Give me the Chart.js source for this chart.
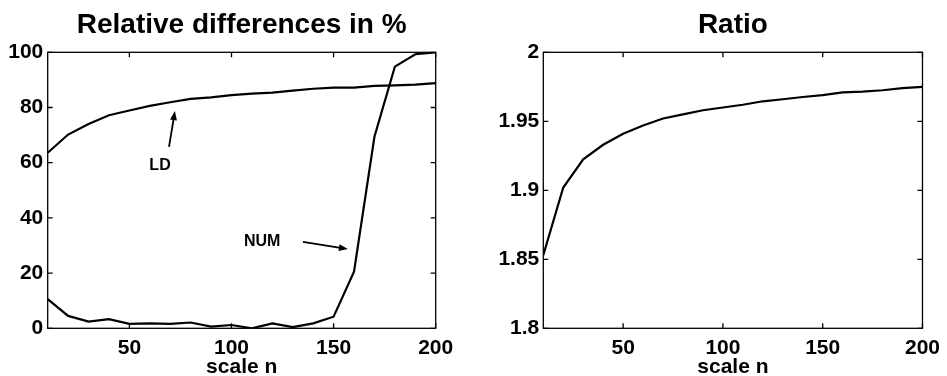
<!DOCTYPE html>
<html lang="en">
<head>
<meta charset="UTF-8">
<title>Relative differences and ratio</title>
<script src="https://cdn.jsdelivr.net/npm/chart.js"></script>
<style>
  body { margin: 0; background: #fff; }
  .panel { position: absolute; top: 0; height: 376px; }
</style>
</head>
<body>
<div class="panel" style="left:0;width:470px"><canvas id="diffChart" width="470" height="376"></canvas></div>
<div class="panel" style="left:470px;width:477px"><canvas id="ratioChart" width="477" height="376"></canvas></div>
<script>
// data
const scaleN = [10, 20, 30, 40, 50, 60, 70, 80, 90, 100, 110, 120, 130, 140, 150, 160, 170, 180, 190, 200];
const ldDiff = [63.6, 70.2, 74.0, 77.2, 78.9, 80.6, 81.9, 83.1, 83.7, 84.5, 85.0, 85.4, 86.1, 86.8, 87.2, 87.2, 87.8, 88.0, 88.3, 88.8];
const numDiff = [10.6, 4.5, 2.4, 3.3, 1.6, 1.8, 1.6, 2.1, 0.6, 1.2, 0.0, 1.8, 0.4, 1.8, 4.2, 20.5, 69.4, 94.8, 99.3, 100];
const ratio = [1.853, 1.902, 1.9225, 1.933, 1.941, 1.947, 1.952, 1.955, 1.958, 1.960, 1.962, 1.9645, 1.966, 1.9676, 1.969, 1.971, 1.9715, 1.9725, 1.974, 1.975];
const xTicks = [50, 100, 150, 200];
const diffTicks = [0, 20, 40, 60, 80, 100];
const ratioTicks = [1.8, 1.85, 1.9, 1.95, 2];

// text labels with arrows (data coordinates of left plot)
const notes = [
    { text: 'LD', at: [65, 58.8], from: [69.4, 65.7], to: [72.3, 78.7] },
    { text: 'NUM', at: [115, 31.3], from: [135, 31.3], to: [157, 28.7] }
];

Chart.defaults.font.family = '"Liberation Sans", Arial, Helvetica, sans-serif';
Chart.defaults.font.weight = 'bold';
Chart.defaults.color = '#000';

const toPoints = ys => scaleN.map((n, i) => ({ x: n, y: ys[i] }));

// box around the plot with inward tick marks
const framePlugin = {
    id: 'frame',
    afterDatasetsDraw(chart) {
        const { ctx, chartArea: a, scales: { x, y } } = chart;
        ctx.save();
        ctx.strokeStyle = '#000';
        ctx.lineWidth = 1.3;
        ctx.strokeRect(a.left, a.top, a.width, a.height);
        ctx.beginPath();
        x.ticks.forEach(t => {
            const px = x.getPixelForValue(t.value);
            ctx.moveTo(px, a.bottom); ctx.lineTo(px, a.bottom - 5);
            ctx.moveTo(px, a.top); ctx.lineTo(px, a.top + 5);
        });
        y.ticks.forEach(t => {
            const py = y.getPixelForValue(t.value);
            ctx.moveTo(a.left, py); ctx.lineTo(a.left + 5, py);
            ctx.moveTo(a.right, py); ctx.lineTo(a.right - 5, py);
        });
        ctx.stroke();
        ctx.restore();
    }
};

const notesPlugin = {
    id: 'notes',
    afterDraw(chart) {
        const { ctx, scales: { x, y } } = chart;
        const px = p => [x.getPixelForValue(p[0]), y.getPixelForValue(p[1])];
        ctx.save();
        ctx.fillStyle = '#000';
        ctx.strokeStyle = '#000';
        ctx.lineWidth = 1.8;
        ctx.font = 'bold 16px "Liberation Sans", Arial, sans-serif';
        ctx.textAlign = 'center';
        ctx.textBaseline = 'middle';
        notes.forEach(n => {
            const [tx, ty] = px(n.at);
            ctx.fillText(n.text, tx, ty);
            const [x1, y1] = px(n.from);
            const [x2, y2] = px(n.to);
            const ang = Math.atan2(y2 - y1, x2 - x1);
            ctx.beginPath();
            ctx.moveTo(x1, y1);
            ctx.lineTo(x2 - 6 * Math.cos(ang), y2 - 6 * Math.sin(ang));
            ctx.stroke();
            ctx.beginPath();
            ctx.moveTo(x2, y2);
            ctx.lineTo(x2 - 9 * Math.cos(ang) + 3.5 * Math.sin(ang), y2 - 9 * Math.sin(ang) - 3.5 * Math.cos(ang));
            ctx.lineTo(x2 - 9 * Math.cos(ang) - 3.5 * Math.sin(ang), y2 - 9 * Math.sin(ang) + 3.5 * Math.cos(ang));
            ctx.closePath();
            ctx.fill();
        });
        ctx.restore();
    }
};

function makeOptions(title, yMin, yMax, yTicks, yWidth, yPad, rightPad) {
    return {
        responsive: false,
        animation: false,
        layout: { padding: { left: 0, right: rightPad, top: 0, bottom: 0 } },
        plugins: {
            legend: { display: false },
            tooltip: { enabled: false },
            title: {
                display: true,
                text: title,
                fullSize: false,
                color: '#000',
                font: { size: 28, weight: 'bold' },
                padding: { top: 8.5, bottom: 10.2 }
            }
        },
        scales: {
            x: {
                type: 'linear',
                min: 10,
                max: 200,
                afterBuildTicks: s => { s.ticks = xTicks.map(v => ({ value: v })); },
                afterFit: s => { s.height = 47.7; },
                grid: { display: false, drawTicks: false },
                border: { display: false },
                ticks: { font: { size: 21, weight: 'bold' }, padding: 7, maxRotation: 0 },
                title: { display: true, text: 'scale n', font: { size: 21, weight: 'bold', lineHeight: 0.85 }, padding: 0 }
            },
            y: {
                type: 'linear',
                min: yMin,
                max: yMax,
                afterBuildTicks: s => { s.ticks = yTicks.map(v => ({ value: v })); },
                afterFit: s => { s.width = yWidth; },
                grid: { display: false, drawTicks: false },
                border: { display: false },
                ticks: { font: { size: 21, weight: 'bold' }, padding: yPad, callback: v => String(v) }
            }
        }
    };
}

const lineStyle = { borderColor: '#000', borderWidth: 2.2, pointRadius: 0, tension: 0, fill: false };

new Chart(document.getElementById('diffChart'), {
    type: 'line',
    data: {
        datasets: [
            { label: 'LD', data: toPoints(ldDiff), ...lineStyle },
            { label: 'NUM', data: toPoints(numDiff), ...lineStyle }
        ]
    },
    options: makeOptions('Relative differences in %', 0, 100, diffTicks, 47.7, 4.4, 34.3),
    plugins: [framePlugin, notesPlugin]
});

new Chart(document.getElementById('ratioChart'), {
    type: 'line',
    data: {
        datasets: [
            { label: 'Ratio', data: toPoints(ratio), ...lineStyle }
        ]
    },
    options: makeOptions('Ratio', 1.8, 2, ratioTicks, 73.3, 4, 19.3),
    plugins: [framePlugin]
});
</script>
</body>
</html>
